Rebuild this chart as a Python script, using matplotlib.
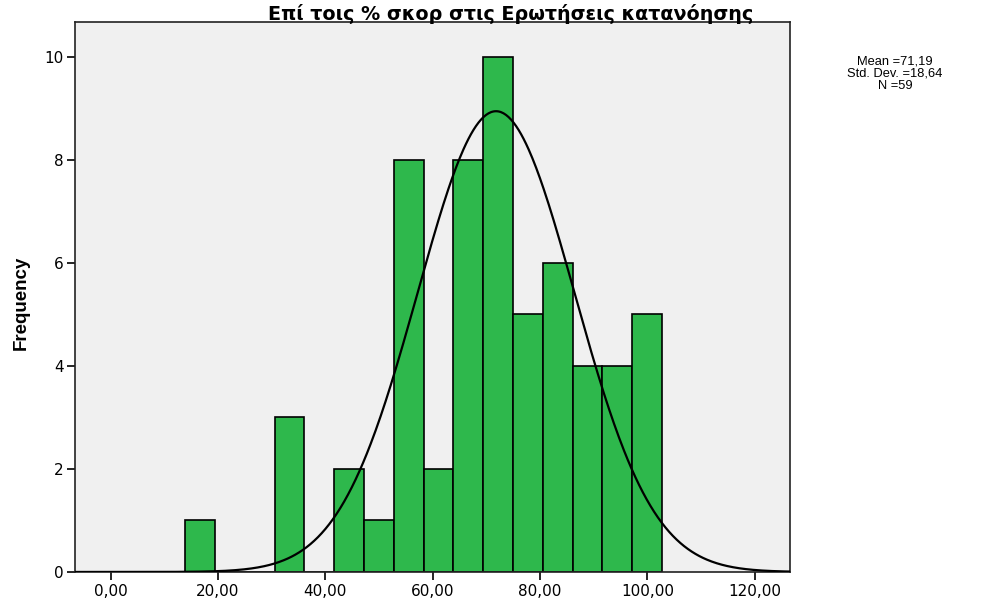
import matplotlib
matplotlib.use("Agg")
import matplotlib.pyplot as plt
import numpy as np

plt.rcParams['font.family'] = ['DejaVu Sans']

# δεδομένα ιστογράμματος
bin_start = 13.9
bin_width = 5.55
counts = [1, 0, 0, 3, 0, 2, 1, 8, 2, 8, 10, 5, 6, 4, 4, 5]
n_total = 59

# κανονική καμπύλη (όπως φαίνεται στο γράφημα)
curve_mean = 71.8
curve_sd = 14.6

stats_text = "Mean =71,19\nStd. Dev. =18,64\nN =59"
title = "Επί τοις % σκορ στις Ερωτήσεις κατανόησης"
xticks = [0, 20, 40, 60, 80, 100, 120]
xticklabels = ["0,00", "20,00", "40,00", "60,00", "80,00", "100,00", "120,00"]
yticks = [0, 2, 4, 6, 8, 10]

edges = bin_start + bin_width * np.arange(len(counts) + 1)

fig = plt.figure(figsize=(9.88, 6.01), dpi=100)
ax = fig.add_axes([0.0759, 0.0483, 0.7233, 0.9151])
ax.set_facecolor('#f0f0f0')

ax.bar(edges[:-1], counts, width=bin_width, align='edge',
       color='#2eb84c', edgecolor='black', linewidth=1.2, zorder=2)

xs = np.linspace(-10, 130, 600)
ys = n_total * bin_width * np.exp(-0.5 * ((xs - curve_mean) / curve_sd) ** 2) / (curve_sd * np.sqrt(2 * np.pi))
ax.plot(xs, ys, color='black', linewidth=1.6, zorder=3)

ax.set_xlim(-6.65, 126.5)
ax.set_ylim(0, 10.68)
ax.set_xticks(xticks)
ax.set_xticklabels(xticklabels)
ax.set_yticks(yticks)
ax.tick_params(axis='both', direction='out', length=6, width=1.2, labelsize=11, color='black')
ax.tick_params(axis='x', pad=3)
ax.tick_params(axis='y', pad=2)
for s in ax.spines.values():
    s.set_color('#222222')
    s.set_linewidth(1.2)

ax.set_ylabel("Frequency", fontsize=13.5, fontweight='bold',
              family=['Liberation Sans', 'DejaVu Sans'])
ax.yaxis.set_label_coords(-0.063, 0.49)

fig.text(511 / 988, 1 - 14 / 601, title, ha='center', va='center',
         fontsize=13.8, fontweight='bold')
fig.text(895 / 988, 1 - 74 / 601, stats_text, ha='center', va='center',
         fontsize=9.3, linespacing=1.0, family=['Liberation Sans', 'DejaVu Sans'])

fig.savefig("out.png", dpi=100)
